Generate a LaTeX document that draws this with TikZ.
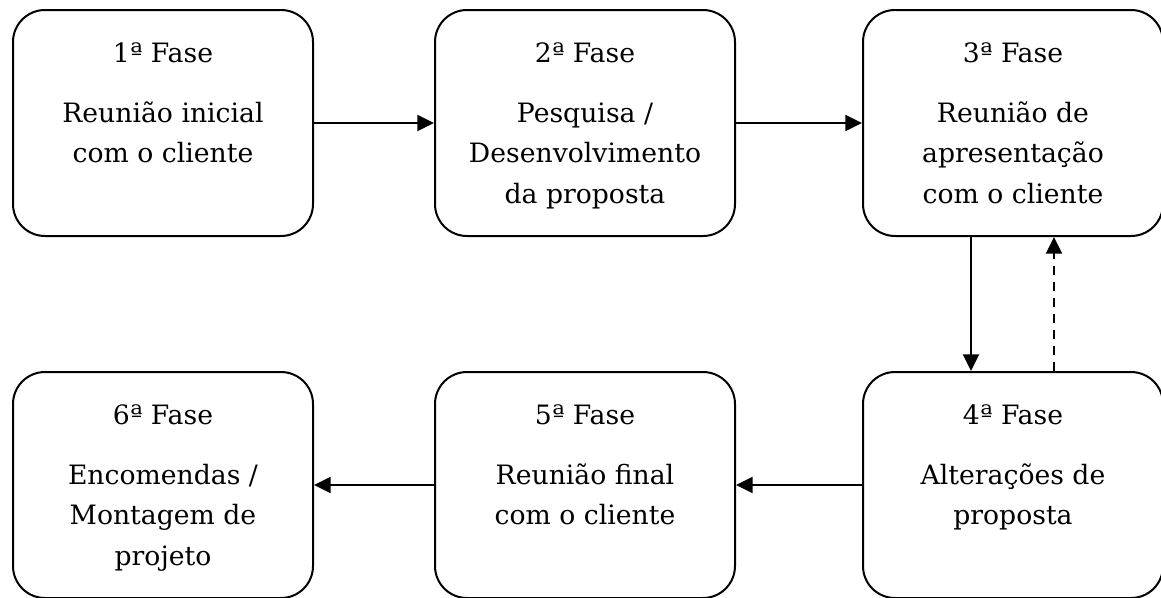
\documentclass[tikz,border=0pt]{standalone}
\usepackage{fontspec}
\setmainfont{DejaVu Serif}
\usetikzlibrary{positioning,arrows.meta}

\newcommand{\fasetext}[2]{\parbox[c][169.5pt][t]{225pt}{\centering
  \fontsize{20pt}{30.4pt}\selectfont\rule{0pt}{39pt}#1\\[14.6pt]#2}}

\begin{document}
\begin{tikzpicture}[node distance={90pt}, line width=1.5pt, fase/.style = {draw, rounded corners=24pt, inner sep=0pt}, >={Triangle[length=12.5pt,width=12pt]}]
\useasboundingbox (0,0) rectangle (870.75pt,-447.75pt);
\node[fase] (f1) at (122.25pt,-92.25pt) {\fasetext{1ª Fase}{Reunião inicial\\com o cliente}};
\node[fase] (f2) [right=of f1] {\fasetext{2ª Fase}{Pesquisa /\\Desenvolvimento\\da proposta}};
\node[fase] (f3) [right=94.5pt of f2] {\fasetext{3ª Fase}{Reunião de\\apresentação\\com o cliente}};
\node[fase] (f4) [below=100.5pt of f3] {\fasetext{4ª Fase}{Alterações de\\proposta}};
\node[fase] (f5) [left=94.5pt of f4] {\fasetext{5ª Fase}{Reunião final\\com o cliente}};
\node[fase] (f6) [left=of f5] {\fasetext{6ª Fase}{Encomendas /\\Montagem de\\projeto}};
\draw[->] (f1) -- (f2);
\draw[->] (f2) -- (f3);
\draw[->] ([xshift=-31.5pt]f3.south) -- ([xshift=-31.5pt]f4.north);
\draw[->, dash pattern=on 7pt off 5pt] ([xshift=30.75pt]f4.north) -- ([xshift=30.75pt]f3.south);
\draw[->] (f4) -- (f5);
\draw[->] (f5) -- (f6);
\end{tikzpicture}
\end{document}
